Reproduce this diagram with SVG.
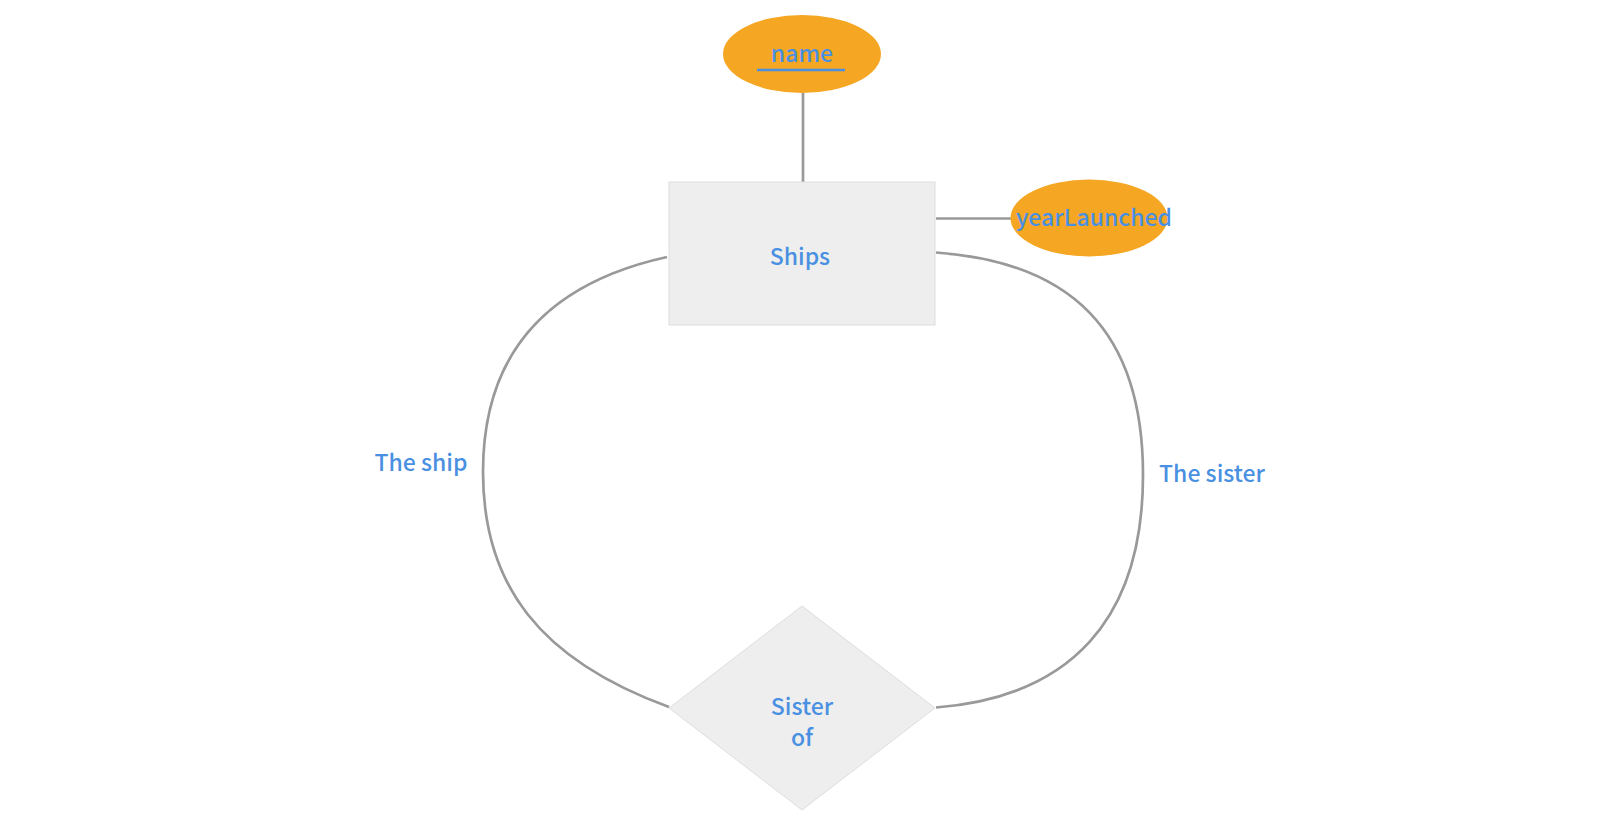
<svg xmlns="http://www.w3.org/2000/svg" width="1603" height="823" viewBox="0 0 1603 823">
<style>
.t{font-family:"Noto Sans CJK KR","Noto Sans",sans-serif;font-size:23px;font-weight:500;fill:#4a90e2;text-anchor:middle}
.c{fill:none;stroke:#999;stroke-width:2.7}
.attr{fill:#f5a623}
.ent{fill:#eeeeee;stroke:#dddddd;stroke-width:1}
</style>
<rect width="1603" height="823" fill="#fff"/>
<g id="connectors">
<line class="c" x1="803" y1="93" x2="803" y2="182"/>
<line class="c" x1="936" y1="218.5" x2="1011" y2="218.5"/>
<path class="c" d="M667,257 C540,285 483,360 483,472 C483,585 540,660 669,707"/>
<path class="c" d="M936,252.5 C1070,262 1143,330 1143,475 C1143,620 1070,697 936,707.5"/>
<text class="t" x="421" y="471">The ship</text>
<text class="t" x="1212" y="482">The sister</text>
</g>
<g id="name">
<ellipse class="attr" cx="802" cy="54" rx="79" ry="39"/>
<text class="t" x="802" y="62">name</text>
<line x1="757" y1="70" x2="845" y2="70" stroke="#4a90e2" stroke-width="2.5"/>
</g>
<g id="yearLaunched">
<ellipse class="attr" cx="1089" cy="218" rx="78.5" ry="38.5"/>
<text class="t" x="1094" y="226">yearLaunched</text>
</g>
<g id="ships">
<rect class="ent" x="669" y="182" width="266" height="143"/>
<text class="t" x="800" y="265">Ships</text>
</g>
<g id="sister-of">
<polygon class="ent" points="802,606 935,708 802,810 669,708"/>
<text class="t" x="802" y="715">Sister</text>
<text class="t" x="802" y="746">of</text>
</g>
</svg>
